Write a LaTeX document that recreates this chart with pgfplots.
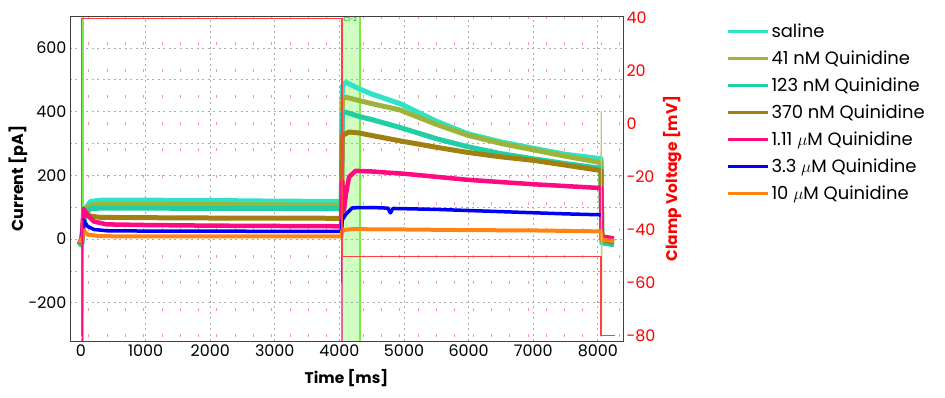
\documentclass[border=0pt]{standalone}
\usepackage{fontspec}
\setmainfont{Poppins}
\usepackage{pgfplots}
\pgfplotsset{compat=1.18}
\definecolor{cSal}{HTML}{2EE3C6}
\definecolor{c41}{HTML}{9DB43A}
\definecolor{c123}{HTML}{22CFA5}
\definecolor{c370}{HTML}{A08010}
\definecolor{c111}{HTML}{FF0A80}
\definecolor{c33}{HTML}{0000F5}
\definecolor{c10}{HTML}{FF8410}
\definecolor{clamp}{HTML}{FF4040}
\definecolor{cursorg}{HTML}{7CEB45}
\definecolor{regiong}{HTML}{CFFFC0}
\begin{document}
\begin{tikzpicture}[font=\fontsize{15}{17}\selectfont]
\useasboundingbox (-70bp,-57bp) rectangle (875bp,341bp);
% ---------- right axis: clamp voltage ----------
\begin{axis}[
  scale only axis, width=553bp, height=325bp,
  xmin=-170, xmax=8390, ymin=-82, ymax=40.5,
  axis x line=none,
  axis y line*=right,
  axis line style={draw=black!75, line width=0.8bp},
  tick style={draw=none},
  ytick={-80,-60,...,40},
  minor y tick num=1,
  ymajorgrids, yminorgrids,
  major grid style={draw=clamp!55, line width=3bp, dash pattern=on 0.8bp off 17.5bp},
  minor grid style={draw=clamp!55, line width=3bp, dash pattern=on 0.8bp off 17.5bp},
  /pgf/number format/assume math mode=true,
  yticklabel style={text=red, font=\fontsize{16}{16}\selectfont},
  ylabel={\textbf{Clamp Voltage [mV]}},
  ylabel style={at={(axis description cs:1.089,0.5)}, anchor=center, text=red, font=\fontsize{15.5}{16}\selectfont},
]
% cursor region
\fill[regiong] (axis cs:4040,-82) rectangle (axis cs:4320,40.5);
\draw[cursorg, line width=1.5bp] (axis cs:4320,-82) -- (axis cs:4320,40.5);
\draw[cursorg, line width=2bp] (axis cs:30,-82) -- (axis cs:30,40.5);
\node[anchor=north west, inner sep=1bp, text=green!55!black, font=\fontsize{6}{6}\selectfont] at (axis cs:4045,40.5) {C1-2};
\end{axis}
% ---------- left axis: current ----------
\begin{axis}[
  scale only axis, width=553bp, height=325bp,
  xmin=-170, xmax=8390, ymin=-320, ymax=700,
  axis line style={draw=black!75, line width=0.8bp},
  tick style={draw=none},
  xtick={0,1000,...,8000}, ytick={-200,0,...,600},
  minor y tick num=1,
  xmajorgrids, ymajorgrids, yminorgrids,
  major grid style={draw=gray!65, line width=0.7bp, dash pattern=on 2bp off 3.5bp},
  minor grid style={draw=gray!65, line width=0.7bp, dash pattern=on 2bp off 3.5bp},
  /pgf/number format/1000 sep={},
  /pgf/number format/assume math mode=true,
  ticklabel style={font=\fontsize{16}{16}\selectfont},
  xlabel={\textbf{Time [ms]}},
  ylabel={\textbf{Current [pA]}},
  xlabel style={at={(axis description cs:0.5,-0.114)}, anchor=center, font=\fontsize{15.5}{16}\selectfont},
  ylabel style={at={(axis description cs:-0.094,0.5)}, anchor=center, font=\fontsize{16}{16}\selectfont},
  legend style={at={(1.185,0.985)}, anchor=north west, draw=none, fill=none,
    font=\fontsize{18}{20}\selectfont, row sep=7.8bp, inner sep=1bp},
  legend cell align=left,
  legend image code/.code={\draw[#1, line width=3bp] (0bp,0bp) -- (40bp,0bp);},
  every axis plot/.append style={line join=round},
]
\addplot[cSal, line width=5bp] coordinates {
 (-40,-5) (10,-12) (40,60) (80,100) (150,118) (300,122) (1000,122) (2000,121) (3000,119) (4030,118)
 (4045,480) (4100,492) (4300,472) (4500,455) (4940,425) (5500,370) (5980,331) (6500,305) (7000,285) (7500,266) (8050,252)
 (8062,2) (8250,-8)
};
\addlegendentry{saline}
\addplot[c41, line width=5bp] coordinates {
 (-40,-5) (10,-10) (40,55) (80,95) (150,106) (300,109) (1000,109) (2000,108) (3000,107) (4030,106)
 (4045,440) (4100,445) (4300,435) (4500,425) (4940,405) (5500,360) (5980,326) (6500,300) (7000,280) (7500,260) (8050,240)
 (8062,0) (8250,-8)
};
\addlegendentry{41 nM Quinidine}
\addplot[c123, line width=5bp] coordinates {
 (-40,-8) (10,-20) (40,50) (80,85) (150,95) (300,97) (1000,97) (2000,96) (3000,96) (4030,95)
 (4045,395) (4100,398) (4300,385) (4500,375) (4940,350) (5500,315) (5980,290) (6500,268) (7000,252) (7500,237) (8050,222)
 (8062,-12) (8250,-18)
};
\addlegendentry{123 nM Quinidine}
\addplot[c370, line width=5bp] coordinates {
 (-40,-5) (10,-10) (40,70) (80,80) (150,72) (300,68) (1000,67) (2000,66) (3000,66) (4030,65)
 (4045,325) (4150,336) (4300,333) (4500,325) (4940,308) (5500,288) (5980,272) (6500,258) (7000,247) (7500,232) (8050,215)
 (8062,-2) (8250,-10)
};
\addlegendentry{370 nM Quinidine}
\addplot[c111, line width=4.5bp] coordinates {
 (-40,-5) (10,-10) (40,95) (100,75) (200,55) (400,46) (1000,44) (2000,42) (3000,41) (4030,40)
 (4045,180) (4070,90) (4100,140) (4150,195) (4250,214) (4500,212) (5000,205) (5980,186) (7000,172) (8050,160)
 (8062,8) (8250,2)
};
\addlegendentry{1.11 $\mu$M Quinidine}
\addplot[c33, line width=3.5bp] coordinates {
 (-40,-5) (10,-8) (40,60) (100,40) (200,30) (400,26) (1000,25) (2000,25) (3000,24) (4030,24)
 (4045,60) (4100,78) (4200,98) (4500,99) (4750,97) (4790,82) (4830,96) (5500,93) (6500,86) (7500,79) (8050,76)
};
\addlegendentry{3.3 $\mu$M Quinidine}
\addplot[c10, line width=4bp] coordinates {
 (-40,-5) (10,-8) (40,28) (100,14) (300,9) (1000,8) (2000,8) (3000,8) (4030,8)
 (4045,28) (4200,31) (5000,30) (6000,28) (7000,27) (8050,24)
 (8062,-2) (8250,-6)
};
\addlegendentry{10 $\mu$M Quinidine}
% capacitive transients (thin)
\addplot[c111, line width=1.2bp, forget plot] coordinates {(12,-10) (20,-320) (28,60)};
\addplot[c111, line width=1.2bp, forget plot] coordinates {(4036,40) (4040,-320) (4044,180)};
\addplot[c41!70, line width=1.2bp, forget plot] coordinates {(8050,240) (8054,400) (8058,-280) (8062,0)};
\end{axis}
% ---------- clamp voltage trace on top ----------
\begin{axis}[
  scale only axis, width=553bp, height=325bp,
  xmin=-170, xmax=8390, ymin=-82, ymax=40.5,
  axis lines=none, ticks=none,
]
\addplot[clamp, line width=1.1bp] coordinates {
  (0,-80) (12,-80) (12,39.5) (4040,39.5) (4040,-50) (8050,-50) (8050,-80) (8262,-80)
};
\end{axis}
\end{tikzpicture}
\end{document}
